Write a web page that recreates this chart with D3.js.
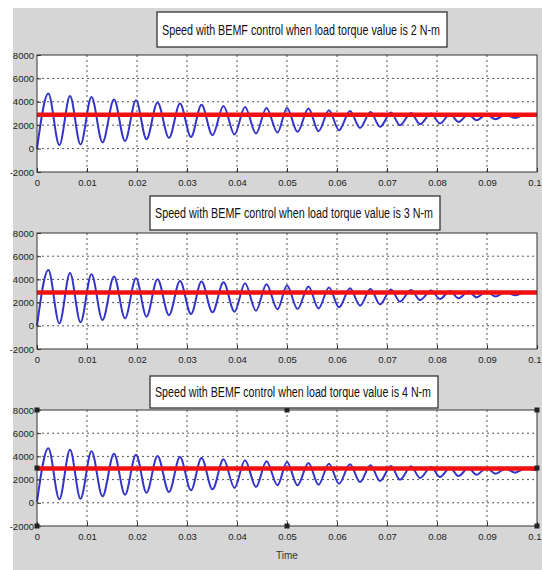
<!DOCTYPE html>
<html>
<head>
<meta charset="utf-8">
<script src="https://cdn.jsdelivr.net/npm/d3@7"></script>
<style>
  body { margin: 0; background: #fff; }
  svg { display: block; }
  text { font-family: "Liberation Sans Narrow", "Liberation Sans", Arial, sans-serif; }
</style>
</head>
<body>
<svg width="542" height="570"></svg>
<script>
// peaks and troughs of the speed trace (s)
const time = [0,
  0.00227, 0.00447, 0.0066, 0.0087, 0.0109, 0.0131, 0.0154, 0.0176, 0.0198, 0.0219,
  0.0241, 0.0264, 0.0286, 0.0308, 0.0329, 0.0351, 0.0373, 0.0395, 0.0416, 0.0438,
  0.0459, 0.0481, 0.0500, 0.0521, 0.0543, 0.0563, 0.0584, 0.0604, 0.0626, 0.0646,
  0.0667, 0.0686, 0.0708, 0.0726, 0.0748, 0.0766, 0.0788, 0.0806, 0.0826, 0.0843,
  0.0863, 0.0879, 0.0899, 0.0917, 0.0937, 0.0956, 0.0976, 0.1];

const speed2Nm = [0,
  4700, 300, 4500, 350, 4400, 530, 4200, 650, 4130, 800,
  3950, 920, 3850, 1000, 3750, 1150, 3650, 1210, 3550, 1290,
  3480, 1380, 3480, 1430, 3420, 1490, 3280, 1575, 3220, 1770,
  3130, 1860, 3080, 2000, 3050, 2085, 3000, 2145, 2960, 2280,
  2935, 2430, 2910, 2510, 2910, 2620, 2880, 2790];

const speed3Nm = [0,
  4800, 200, 4550, 300, 4450, 500, 4250, 640, 4100, 790,
  4020, 925, 3870, 1010, 3815, 1160, 3755, 1220, 3670, 1300,
  3580, 1420, 3470, 1445, 3385, 1500, 3300, 1590, 3240, 1740,
  3180, 1850, 3125, 2085, 3090, 2225, 3040, 2310, 3000, 2370,
  2980, 2460, 2950, 2520, 2920, 2630, 2890, 2780];

const speed4Nm = [100,
  4700, 300, 4580, 355, 4440, 560, 4235, 700, 4150, 870,
  4035, 930, 3950, 1080, 3860, 1165, 3750, 1280, 3665, 1365,
  3580, 1510, 3520, 1510, 3430, 1560, 3370, 1645, 3320, 1790,
  3230, 1880, 3170, 1990, 3145, 2140, 3085, 2225, 3025, 2310,
  3000, 2420, 3000, 2510, 2940, 2600, 2940, 2800];

const refSpeed = [2900, 2870, 2950];

const titles = [
  "Speed with BEMF control when load torque value is 2 N-m",
  "Speed with BEMF control when load torque value is 3 N-m",
  "Speed with BEMF control when load torque value is 4 N-m"
];

const yTicks = [-2000, 0, 2000, 4000, 6000, 8000];
const yTickLabels = ["-2000", "0", "2000", "4000", "6000", "8000"];
const xTicks = [0, 0.01, 0.02, 0.03, 0.04, 0.05, 0.06, 0.07, 0.08, 0.09, 0.1];
const xTickLabels = ["0", "0.01", "0.02", "0.03", "0.04", "0.05", "0.06", "0.07", "0.08", "0.09", "0.1"];

const svg = d3.select("svg");
const left = 37, right = 537;

// figure background
svg.append("rect").attr("x", 13).attr("y", 8).attr("width", 529).attr("height", 562).attr("fill", "#d6d6d6");

const panels = [
  { speed: speed2Nm, ref: refSpeed[0], title: titles[0], top: 55, bottom: 172, box: [157, 12, 290, 35] },
  { speed: speed3Nm, ref: refSpeed[1], title: titles[1], top: 233, bottom: 349, box: [150, 196, 290, 34] },
  { speed: speed4Nm, ref: refSpeed[2], title: titles[2], top: 410, bottom: 526, box: [150, 376, 288, 32], handles: true }
];

const x = d3.scaleLinear().domain([0, 0.1]).range([left, right]);

panels.forEach(p => {
  const y = d3.scaleLinear().domain([-2000, 8000]).range([p.bottom, p.top]);
  const g = svg.append("g");

  g.append("rect")
    .attr("x", left).attr("y", p.top)
    .attr("width", right - left).attr("height", p.bottom - p.top)
    .attr("fill", "#fff");

  // grid
  g.append("g").selectAll("line").data(xTicks.slice(1, -1)).enter().append("line")
    .attr("x1", d => x(d)).attr("x2", d => x(d))
    .attr("y1", p.top).attr("y2", p.bottom)
    .attr("stroke", "#555").attr("stroke-dasharray", "2,3");
  g.append("g").selectAll("line").data(yTicks.slice(1, -1)).enter().append("line")
    .attr("x1", left).attr("x2", right)
    .attr("y1", d => y(d)).attr("y2", d => y(d))
    .attr("stroke", "#555").attr("stroke-dasharray", "2,3");

  const line = d3.line().x(d => x(d[0])).y(d => y(d[1])).curve(d3.curveMonotoneX);

  g.append("path")
    .datum(time.map((t, i) => [t, p.speed[i]]))
    .attr("d", line)
    .attr("fill", "none")
    .attr("stroke", "#3434c8")
    .attr("stroke-width", 2);

  g.append("path")
    .datum([[0, p.ref], [0.1, p.ref]])
    .attr("d", d3.line().x(d => x(d[0])).y(d => y(d[1])))
    .attr("stroke", "#f01010")
    .attr("stroke-width", 4.5);

  // axes
  g.append("g")
    .attr("transform", `translate(0,${p.bottom})`)
    .call(d3.axisBottom(x).tickValues(xTicks).tickFormat((d, i) => xTickLabels[i])
      .tickSizeInner(-4).tickSizeOuter(0).tickPadding(7))
    .call(a => a.select(".domain").remove())
    .call(a => a.selectAll("text").attr("font-size", 9.5).attr("fill", "#222")
      .attr("text-anchor", (d, i) => i === xTicks.length - 1 ? "end" : "middle")
      .attr("dx", (d, i) => i === xTicks.length - 1 ? "4" : "0"))
    .call(a => a.selectAll("line").attr("stroke", "#333"));

  g.append("g")
    .attr("transform", `translate(${left},0)`)
    .call(d3.axisLeft(y).tickValues(yTicks).tickFormat((d, i) => yTickLabels[i])
      .tickSizeInner(-4).tickSizeOuter(0).tickPadding(3))
    .call(a => a.select(".domain").remove())
    .call(a => a.selectAll("text").attr("font-size", 9.5).attr("fill", "#222"))
    .call(a => a.selectAll("line").attr("stroke", "#333"));

  g.append("rect")
    .attr("x", left).attr("y", p.top)
    .attr("width", right - left).attr("height", p.bottom - p.top)
    .attr("fill", "none").attr("stroke", "#333");

  if (p.handles) {
    const hx = [left, (left + right) / 2, right];
    const hy = [p.top, (p.top + p.bottom) / 2, p.bottom];
    const pts = [];
    hx.forEach(a => hy.forEach(b => { if (!(a === hx[1] && b === hy[1])) pts.push([a, b]); }));
    g.selectAll(".handle").data(pts).enter().append("rect")
      .attr("class", "handle")
      .attr("x", d => d[0] - 2.5).attr("y", d => d[1] - 2.5)
      .attr("width", 5).attr("height", 5)
      .attr("fill", "#222");
  }

  // title box
  const [bx, by, bw, bh] = p.box;
  g.append("rect")
    .attr("x", bx).attr("y", by).attr("width", bw).attr("height", bh)
    .attr("fill", "#fff").attr("stroke", "#333").attr("stroke-width", 1.3);
  g.append("text")
    .attr("x", bx + 5).attr("y", by + bh / 2 + 5)
    .attr("font-size", 14)
    .attr("fill", "#111")
    .attr("textLength", bw - 12)
    .attr("lengthAdjust", "spacingAndGlyphs")
    .text(p.title);
});

svg.append("text")
  .attr("x", (left + right) / 2).attr("y", 559)
  .attr("text-anchor", "middle")
  .attr("font-size", 10)
  .attr("fill", "#333")
  .text("Time");
</script>
</body>
</html>
